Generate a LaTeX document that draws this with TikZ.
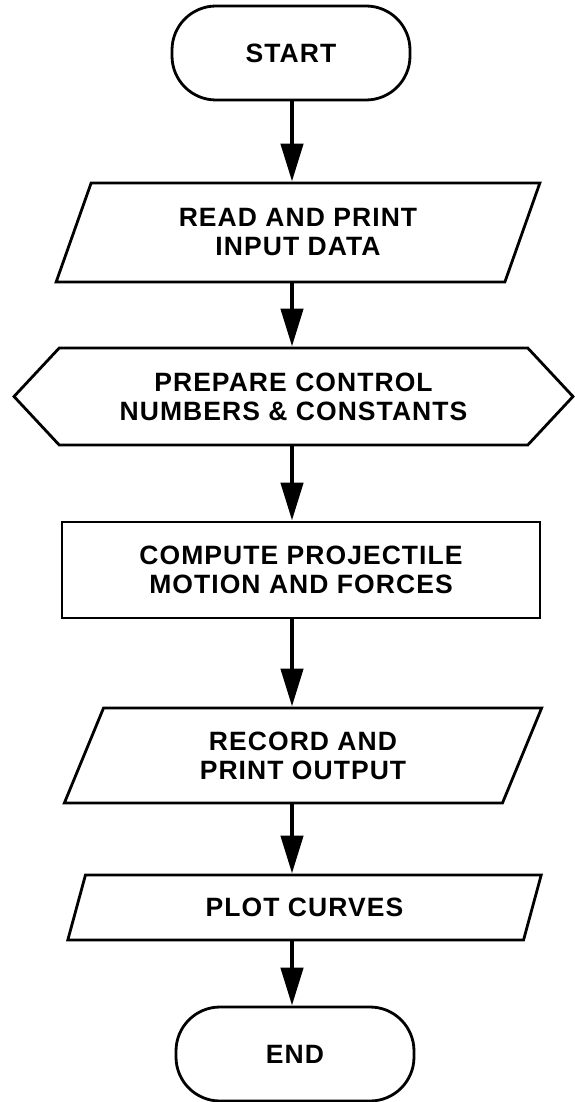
\documentclass[tikz,border=0pt]{standalone}
\usepackage{fontspec}
\setmainfont[LetterSpace=4]{Liberation Sans}
\usetikzlibrary{shapes.geometric,shapes.symbols,arrows.meta}

\begin{document}
\begin{tikzpicture}[x=1pt, y=-1pt,
    box/.style={draw, line width=2.8pt, align=center, inner sep=0pt,
        font=\fontsize{26.5}{29}\selectfont\bfseries},
    term/.style={box, rounded corners=44pt, minimum width=238pt, minimum height=94pt},
    io/.style={box, trapezium, trapezium left angle=67, trapezium right angle=113,
        trapezium stretches=true},
    prep/.style={box, signal, signal to=east and west, signal pointer angle=94},
    proc/.style={box, minimum width=478pt, minimum height=96pt},
    flow/.style={line width=4.5pt, -{Triangle[length=38pt,width=22pt]}}]

    \useasboundingbox (0,0) rectangle (574,1102);
    \coordinate (axis) at (292,0);

    \node[term] (start) at (291,53) {START};
    \node[io, minimum width=484pt, minimum height=99pt] (read) at (298,232.5) {READ AND PRINT\\INPUT DATA};
    \node[prep, minimum width=559pt, minimum height=97pt] (prepare) at (293.5,396.5) {PREPARE CONTROL\\NUMBERS \& CONSTANTS};
    \node[proc] (compute) at (301,570) {COMPUTE PROJECTILE\\MOTION AND FORCES};
    \node[io, minimum width=478pt, minimum height=95pt] (record) at (303,755.5) {RECORD AND\\PRINT OUTPUT};
    \node[io, minimum width=475pt, minimum height=65pt] (plot) at (304.5,907.5) {PLOT CURVES};
    \node[term] (end) at (295,1054) {END};

    \foreach \a/\b in {start/read, read/prepare, prepare/compute, compute/record, record/plot, plot/end}
    \draw[flow] (axis |- \a.south) -- (axis |- \b.north);

\end{tikzpicture}
\end{document}
